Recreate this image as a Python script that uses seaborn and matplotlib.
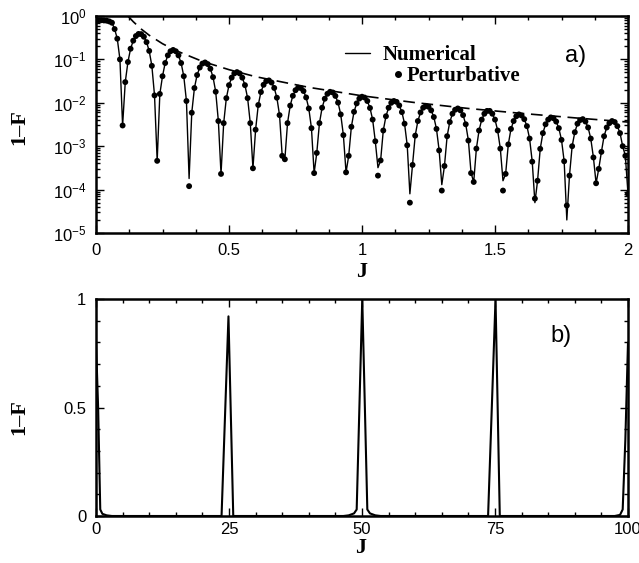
import numpy as np
import pandas as pd
import matplotlib
matplotlib.use("Agg")
import matplotlib.pyplot as plt
import seaborn as sns
from matplotlib.ticker import MultipleLocator, LogLocator, NullFormatter, FuncFormatter
from matplotlib.lines import Line2D

# ---------------- data ----------------
J_top = np.round(np.linspace(0.0, 2.0, 201), 2)

perturbative = [
    0.80, 0.80, 0.80, 0.79, 0.78, 0.75, 0.70, 0.50, 0.30, 0.10,            # 0.00-0.09
    0.003,                                                                  # 0.10
    0.030, 0.087, 0.176, 0.27, 0.345, 0.386, 0.382, 0.333, 0.25, 0.157, 0.071, 0.0148,  # 0.11-0.22
    0.00046,                                                                # 0.23
    0.016, 0.041, 0.0825, 0.124, 0.154, 0.165, 0.154, 0.124, 0.0825, 0.041, 0.011,     # 0.24-0.34
    0.00012,                                                                # 0.35
    0.0059, 0.0219, 0.0436, 0.065, 0.080, 0.085, 0.078, 0.061, 0.039, 0.018, 0.0038,   # 0.36-0.46
    0.00023,                                                                # 0.47
    0.0034, 0.0128, 0.0255, 0.038, 0.0476, 0.051, 0.0476, 0.038, 0.0255, 0.0128, 0.0034,  # 0.48-0.58
    0.00031,                                                                # 0.59
    0.0024, 0.0089, 0.0177, 0.026, 0.0316, 0.0328, 0.0293, 0.022, 0.0131, 0.0052,    # 0.60-0.69
    0.0006, 0.0005,                                                         # 0.70-0.71
    0.0034, 0.0086, 0.0145, 0.0195, 0.0223, 0.0219, 0.0187, 0.0133, 0.0074, 0.0026,  # 0.72-0.81
    0.00024,                                                                # 0.82
    0.0007, 0.0034, 0.0077, 0.0124, 0.0161, 0.0179, 0.0173, 0.0144, 0.0101, 0.0054, 0.0018,  # 0.83-0.93
    0.00025,                                                                # 0.94
    0.0006, 0.0028, 0.0062, 0.0097, 0.0125, 0.0138, 0.0132, 0.011, 0.0076, 0.0041, 0.0013,  # 0.95-1.05
    0.00021,                                                                # 1.06
    0.00047, 0.0023, 0.0049, 0.0077, 0.010, 0.011, 0.0105, 0.0087, 0.0061, 0.0033, 0.00105,  # 1.07-1.17
    0.00005,                                                                # 1.18
    0.00037, 0.00175, 0.0038, 0.006, 0.0077, 0.0085, 0.0081, 0.0067, 0.0047, 0.0025, 0.0008,  # 1.19-1.29
    0.000095,                                                               # 1.30
    0.00035, 0.0017, 0.0036, 0.0056, 0.0069, 0.0074, 0.0067, 0.0052, 0.0032, 0.00135,  # 1.31-1.40
    0.00024, 0.00015,                                                       # 1.41-1.42
    0.00088, 0.0023, 0.0041, 0.0056, 0.0065, 0.0065, 0.0056, 0.0041, 0.0023, 0.00088,  # 1.43-1.52
    0.000095,                                                               # 1.53
    0.00023, 0.0011, 0.0025, 0.0038, 0.0049, 0.0054, 0.0051, 0.0042, 0.0029, 0.0015, 0.00044,  # 1.54-1.64
    0.000062,                                                               # 1.65
    0.00016, 0.00087, 0.002, 0.0032, 0.0041, 0.0046, 0.0044, 0.0037, 0.0026, 0.0014, 0.00045,  # 1.66-1.76
    0.000043,                                                               # 1.77
    0.00021, 0.001, 0.0021, 0.0033, 0.004, 0.0042, 0.0037, 0.0027, 0.0015, 0.00055,  # 1.78-1.87
    0.00014,                                                                # 1.88
    0.0003, 0.00074, 0.0017, 0.0027, 0.0034, 0.0038, 0.0036, 0.0029, 0.002, 0.001, 0.0006,  # 1.89-1.99
    0.00008,                                                                # 2.00
]

# numerical curve equals the perturbative one except at these dips
numerical_dip_J = [0.35, 1.06, 1.18, 1.30, 1.53, 1.65, 1.77]
numerical_dip_val = [0.00018, 0.00032, 0.00008, 0.00013, 0.00016, 0.00005, 0.00002]

envelope_J = [0.12, 0.14, 0.17, 0.20, 0.25, 0.30, 0.40, 0.50, 0.60, 0.80, 1.00, 1.20, 1.40, 1.60, 1.80, 2.00]
envelope_val = [1.0, 0.74, 0.50, 0.36, 0.23, 0.16, 0.090, 0.058, 0.040, 0.0227, 0.0145, 0.0101, 0.0074, 0.0057, 0.0045, 0.0036]

J_bottom = [0, 0.4, 0.8, 1.2, 2.0, 3.0, 23.6, 24.9, 25.8, 46.5, 47.5, 48.5, 49.0, 50.05, 51.0,
            51.5, 52.5, 53.5, 73.7, 75.1, 75.9, 97.5, 98.5, 99.0, 99.5, 100]
F_bottom = [0.8, 0.5, 0.03, 0.01, 0.003, 0, 0, 0.92, 0, 0, 0.003, 0.012, 0.03, 1.0, 0.03,
            0.012, 0.003, 0, 0, 1.0, 0, 0, 0.005, 0.03, 0.35, 0.8]

top_xticks = [0, 0.5, 1, 1.5, 2]
bottom_xticks = [0, 25, 50, 75, 100]
bottom_yticks = [0, 0.5, 1]

# ---------------- styling ----------------
sns.set_style("ticks")
plt.rcParams['font.family'] = ['Liberation Sans', 'DejaVu Sans']
plt.rcParams['mathtext.fontset'] = 'custom'
plt.rcParams['mathtext.rm'] = 'Liberation Sans'
plt.rcParams['mathtext.it'] = 'Liberation Sans:italic'
plt.rcParams['mathtext.bf'] = 'Liberation Sans:bold'
plt.rcParams['mathtext.default'] = 'regular'
plt.rcParams['text.color'] = 'black'
plt.rcParams['axes.labelcolor'] = 'black'
plt.rcParams['xtick.color'] = 'black'
plt.rcParams['ytick.color'] = 'black'
plt.rcParams['axes.edgecolor'] = 'black'

W, H = 639, 563
fig = plt.figure(figsize=(W / 100, H / 100), dpi=100)
ax1 = fig.add_axes([96 / W, 1 - 233 / H, 532 / W, 217 / H])
ax2 = fig.add_axes([96 / W, 1 - 516 / H, 532 / W, 217 / H])

numerical = list(perturbative)
for j, v in zip(numerical_dip_J, numerical_dip_val):
    numerical[int(round(j * 100))] = v

df_top = pd.DataFrame({"J": J_top, "Numerical": numerical, "Perturbative": perturbative})
df_env = pd.DataFrame({"J": envelope_J, "env": envelope_val})
df_bot = pd.DataFrame({"J": J_bottom, "F": F_bottom})

sns.lineplot(data=df_top, x="J", y="Numerical", ax=ax1, color="black", lw=1.0,
             estimator=None, sort=False)
sns.scatterplot(data=df_top, x="J", y="Perturbative", ax=ax1, color="black", s=18,
                edgecolor="none", zorder=3)
sns.lineplot(data=df_env, x="J", y="env", ax=ax1, color="black", lw=1.2,
             estimator=None, sort=False, linestyle=(0, (7, 4)))

ax1.set_yscale("log")
ax1.set_xlim(0, 2)
ax1.set_ylim(1e-5, 1)
ax1.xaxis.set_major_locator(MultipleLocator(0.5))
ax1.xaxis.set_minor_locator(MultipleLocator(0.125))
ax1.set_xticks(top_xticks)
ax1.xaxis.set_major_formatter(FuncFormatter(lambda v, p: f"{v:g}"))
ax1.yaxis.set_major_locator(LogLocator(base=10, numticks=10))
ax1.yaxis.set_minor_locator(LogLocator(base=10, subs=np.arange(2, 10), numticks=100))
ax1.yaxis.set_minor_formatter(NullFormatter())

sns.lineplot(data=df_bot, x="J", y="F", ax=ax2, color="black", lw=1.5,
             estimator=None, sort=False)
ax2.set_xlim(0, 100)
ax2.set_ylim(0, 1)
ax2.set_xticks(bottom_xticks)
ax2.xaxis.set_minor_locator(MultipleLocator(5))
ax2.set_yticks(bottom_yticks)
ax2.yaxis.set_minor_locator(MultipleLocator(0.1))
ax2.xaxis.set_major_formatter(FuncFormatter(lambda v, p: f"{v:g}"))
ax2.yaxis.set_major_formatter(FuncFormatter(lambda v, p: f"{v:g}"))

label_font = dict(family=["Liberation Serif", "DejaVu Serif"], weight="bold", size=16)
for ax in (ax1, ax2):
    for s in ax.spines.values():
        s.set_linewidth(1.8)
        s.set_color("black")
        s.set_visible(True)
    ax.tick_params(which="both", direction="in", top=True, right=True, width=1.0,
                   labelsize=12, pad=7, colors="black")
    ax.tick_params(which="major", length=6)
    ax.tick_params(which="minor", length=3)
    ax.set_xlabel("J", fontdict=label_font)
    ax.set_ylabel("1–F", fontdict=label_font)

ax2.tick_params(axis="x", which="both", pad=4.5)

ax1.xaxis.set_label_coords(0.5, -0.135)
ax2.xaxis.set_label_coords(0.498, -0.1)
ax1.yaxis.set_label_coords(-0.125, 0.488)
ax2.yaxis.set_label_coords(-0.125, 0.456)

# legend (two separately placed entries)
leg_font = dict(family=["Liberation Serif", "DejaVu Serif"], weight="bold", size=15)
leg1 = ax1.legend(handles=[Line2D([], [], color="black", lw=1.0)], labels=["Numerical"],
                  loc="center left", bbox_to_anchor=(0.468, 0.818), frameon=False, prop=leg_font,
                  handlelength=1.2, handletextpad=0.6, borderpad=0, borderaxespad=0)
ax1.add_artist(leg1)
ax1.legend(handles=[Line2D([], [], color="black", marker="o", ls="none", ms=4)],
           labels=["Perturbative"], loc="center left", bbox_to_anchor=(0.556, 0.722),
           frameon=False, prop=leg_font, handlelength=0.6, handletextpad=0.1,
           borderpad=0, borderaxespad=0)

ax1.text(0.882, 0.815, "a)", transform=ax1.transAxes, fontsize=17, va="center", ha="left")
ax2.text(0.855, 0.83, "b)", transform=ax2.transAxes, fontsize=17, va="center", ha="left")

fig.savefig("out.png", dpi=100)
